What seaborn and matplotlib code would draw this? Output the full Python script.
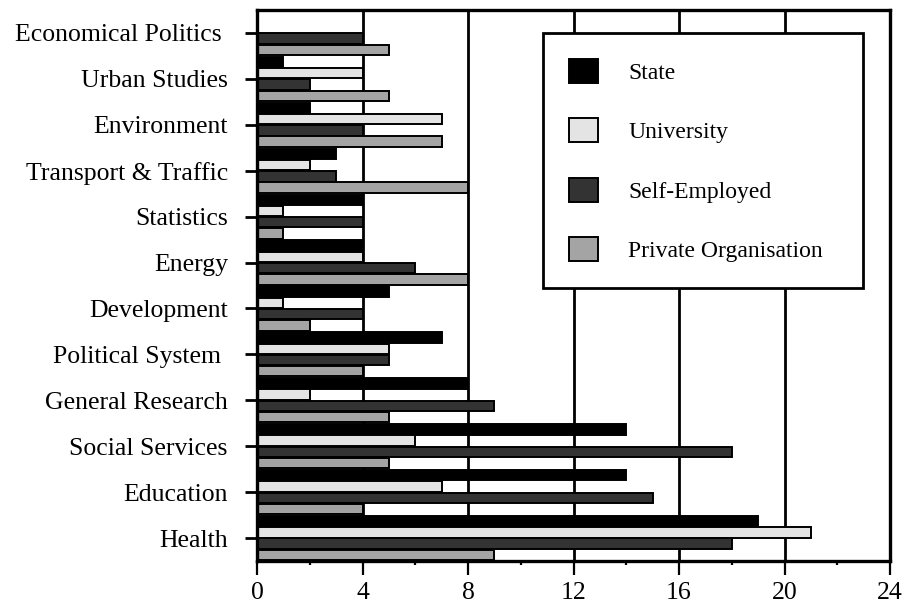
import matplotlib
matplotlib.use("Agg")
import matplotlib.pyplot as plt
from matplotlib.patches import Patch
from matplotlib.ticker import MultipleLocator
import seaborn as sns
import pandas as pd

# Fields of work, top to bottom
categories = [
    "Economical Politics ", "Urban Studies", "Environment", "Transport & Traffic",
    "Statistics", "Energy", "Development", "Political System ",
    "General Research", "Social Services", "Education", "Health",
]
series = ["State", "University", "Self-Employed", "Private Organisation"]

state = [0, 1, 2, 3, 4, 4, 5, 7, 8, 14, 14, 19]
university = [0, 4, 7, 2, 1, 4, 1, 5, 2, 6, 7, 21]
self_employed = [4, 2, 4, 3, 4, 6, 4, 5, 9, 18, 15, 18]
private_org = [5, 5, 7, 8, 1, 8, 2, 4, 5, 5, 4, 9]

x_ticks = [0, 4, 8, 12, 16, 20, 24]

colors = ["#000000", "#e4e4e4", "#333333", "#a4a4a4"]

df = pd.DataFrame({
    "field": categories * 4,
    "sector": [s for s in series for _ in categories],
    "count": state + university + self_employed + private_org,
})

sns.set_theme(style="white")
plt.rcParams["font.family"] = ["Liberation Serif", "DejaVu Serif"]
plt.rcParams["text.color"] = "black"
plt.rcParams["axes.labelcolor"] = "black"
plt.rcParams["xtick.color"] = "black"
plt.rcParams["ytick.color"] = "black"

fig = plt.figure(figsize=(9.09, 6.05), dpi=100)
ax = fig.add_axes([257 / 909, 1 - 561 / 605, 633 / 909, 551 / 605])

sns.barplot(
    data=df, y="field", x="count", hue="sector", order=categories,
    hue_order=series, palette=colors, orient="h", width=0.98, gap=0.07,
    edgecolor="black", linewidth=1.4, saturation=1, legend=False, ax=ax,
)

ax.set_xlim(0, 24)
ax.set_xticks(x_ticks)
ax.set_xticklabels([str(t) for t in x_ticks])
ax.xaxis.set_minor_locator(MultipleLocator(2))
ax.set_xlabel("")
ax.set_ylabel("")

for t in x_ticks[1:-1]:
    ax.axvline(t, color="black", lw=2.0, zorder=0)

for sp in ax.spines.values():
    sp.set_color("black")
    sp.set_linewidth(2.4)
    sp.set_visible(True)

ax.tick_params(axis="y", which="major", direction="out", length=9, width=2,
               labelsize=18.5, pad=12, left=True)
ax.tick_params(axis="x", which="major", direction="out", length=10, width=1.6,
               labelsize=18.5, pad=5, bottom=True)
ax.tick_params(axis="x", which="minor", direction="out", length=3, width=1.6,
               bottom=True)

handles = [Patch(facecolor=c, edgecolor="black", linewidth=1.4) for c in colors]
leg = ax.legend(
    handles, series, loc="upper left",
    bbox_to_anchor=((543 - 257) / 633, 1 - (33 - 10) / 551, 320 / 633, 0.0),
    mode="expand", frameon=True, fancybox=False, fontsize=17,
    handlelength=1.25, handleheight=1.2, handletextpad=1.25,
    labelspacing=1.45, borderpad=1.1, borderaxespad=0,
)
leg.get_frame().set_edgecolor("black")
leg.get_frame().set_linewidth(2)
leg.get_frame().set_facecolor("white")
leg.get_frame().set_alpha(1)

fig.savefig("out.png", dpi=100)
